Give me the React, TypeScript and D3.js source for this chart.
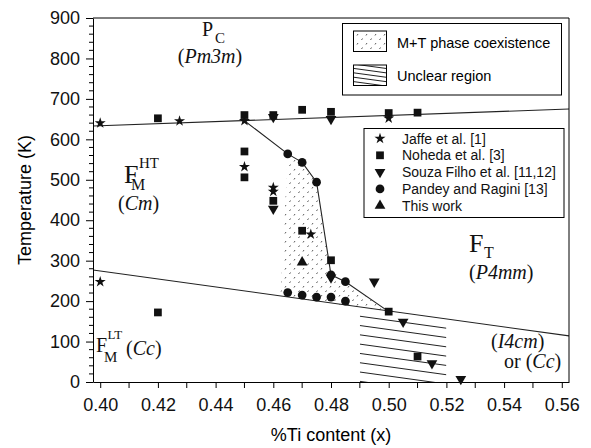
import React, { useEffect, useRef } from "react";
import * as d3 from "d3";

// x = %Ti content, T = temperature (K)
const jaffeX = [0.40, 0.40, 0.4275, 0.45, 0.45, 0.46, 0.46, 0.473, 0.50];
const jaffeT = [640, 248, 645, 646, 532, 481, 471, 365, 652];

const nohedaX = [0.42, 0.42, 0.45, 0.45, 0.45, 0.46, 0.46, 0.47, 0.47, 0.48, 0.48, 0.50, 0.50, 0.51, 0.51];
const nohedaT = [652, 172, 660, 570, 506, 660, 448, 673, 374, 668, 301, 174, 665, 666, 63];

const souzaX = [0.46, 0.46, 0.48, 0.48, 0.495, 0.505, 0.515, 0.525];
const souzaT = [655, 428, 650, 258, 248, 149, 46, 7];

const pandeyX = [0.465, 0.47, 0.475, 0.48, 0.485, 0.465, 0.47, 0.475, 0.48, 0.485];
const pandeyT = [564, 543, 494, 265, 248, 221, 215, 210, 210, 200];

const thisWorkX = [0.47];
const thisWorkT = [296];

// phase boundaries
const upperLineX = [0.3975, 0.5625];
const upperLineT = [633, 675];
const lowerLineX = [0.3975, 0.5625];
const lowerLineT = [277, 114];
const mtLineX = [0.45, 0.465, 0.47, 0.475, 0.48, 0.485, 0.50];
const mtLineT = [646, 564, 543, 494, 265, 248, 174];

// M+T coexistence area and unclear region
const coexX = [0.465, 0.47, 0.475, 0.48, 0.485, 0.50, 0.4625];
const coexT = [564, 543, 494, 265, 248, 174, 213];
const unclearX = [0.49, 0.52];

const xTicks = [0.40, 0.42, 0.44, 0.46, 0.48, 0.50, 0.52, 0.54, 0.56];
const yTicks = [0, 100, 200, 300, 400, 500, 600, 700, 800, 900];

const legendNames = ["Jaffe et al. [1]", "Noheda et al. [3]", "Souza Filho et al. [11,12]", "Pandey and Ragini [13]", "This work"];

const sans = "'Liberation Sans', Arial, Helvetica, sans-serif";
const serif = "'Liberation Serif', 'Times New Roman', serif";

type Part = { t: string; it?: boolean };

const App: React.FC = () => {
  const svgRef = useRef<SVGSVGElement>(null);

  useEffect(() => {
    const svg = d3.select(svgRef.current);
    svg.selectAll("*").remove();

    const x = d3.scaleLinear().domain([0.3975, 0.5625]).range([93, 569]);
    const y = d3.scaleLinear().domain([0, 900]).range([382, 18]);

    const defs = svg.append("defs");
    const pat = defs.append("pattern").attr("id", "dots").attr("patternUnits", "userSpaceOnUse")
      .attr("width", 9).attr("height", 9);
    pat.append("line").attr("x1", 1.5).attr("y1", 4).attr("x2", 2.5).attr("y2", 2.5).attr("stroke", "#444").attr("stroke-width", 0.9);
    pat.append("line").attr("x1", 6).attr("y1", 8.5).attr("x2", 7).attr("y2", 7).attr("stroke", "#444").attr("stroke-width", 0.9);

    // coexistence area
    const coexPts = coexX.map((d, i) => [x(d), y(coexT[i])] as [number, number]);
    svg.append("path").attr("d", d3.line()(coexPts) + "Z").attr("fill", "url(#dots)");

    // unclear region hatching
    const lowAt = (v: number) => lowerLineT[0] + (lowerLineT[1] - lowerLineT[0]) * (v - lowerLineX[0]) / (lowerLineX[1] - lowerLineX[0]);
    defs.append("clipPath").attr("id", "unclear").append("rect")
      .attr("x", x(unclearX[0])).attr("y", y(lowAt(unclearX[0])))
      .attr("width", x(unclearX[1]) - x(unclearX[0])).attr("height", y(0) - y(lowAt(unclearX[0])));
    const hatch = svg.append("g").attr("clip-path", "url(#unclear)");
    d3.range(1, 10).forEach(k => {
      hatch.append("line")
        .attr("x1", x(unclearX[0])).attr("y1", y(lowAt(unclearX[0]) - k * 23))
        .attr("x2", x(unclearX[1])).attr("y2", y(lowAt(unclearX[1]) - k * 23))
        .attr("stroke", "#222").attr("stroke-width", 1);
    });

    // boundary lines
    const drawLine = (xs: number[], ts: number[]) => {
      svg.append("path")
        .attr("d", d3.line<number>().x(d => x(d)).y((_, i) => y(ts[i]))(xs))
        .attr("fill", "none").attr("stroke", "#222").attr("stroke-width", 1.1);
    };
    drawLine(upperLineX, upperLineT);
    drawLine(lowerLineX, lowerLineT);
    drawLine(mtLineX, mtLineT);

    // axes
    const xAxis = svg.append("g").attr("transform", `translate(0,${y(0)})`)
      .call(d3.axisBottom(x).tickValues(xTicks).tickFormat(d3.format(".2f")).tickSize(6).tickSizeOuter(0).tickPadding(10));
    xAxis.selectAll("text").attr("font-size", 18).attr("font-family", sans).attr("fill", "#111");
    xAxis.append("g").selectAll("line").data(d3.range(0.41, 0.56, 0.02)).join("line")
      .attr("x1", d => x(d)).attr("x2", d => x(d)).attr("y1", 0).attr("y2", 6).attr("stroke", "#000");

    const yAxis = svg.append("g").attr("transform", `translate(${x.range()[0]},0)`)
      .call(d3.axisLeft(y).tickValues(yTicks).tickSize(7).tickSizeOuter(0).tickPadding(6));
    yAxis.selectAll("text").attr("font-size", 18).attr("font-family", sans).attr("fill", "#111");
    yAxis.append("g").selectAll("line").data(d3.range(0, 901, 20).filter(d => d % 100 !== 0)).join("line")
      .attr("x1", -4).attr("x2", 0).attr("y1", d => y(d)).attr("y2", d => y(d)).attr("stroke", "#000");

    svg.selectAll(".domain").attr("stroke", "#000");
    svg.append("path")
      .attr("d", `M${x.range()[0]},${y(900)}H${x.range()[1]}V${y(0)}`)
      .attr("fill", "none").attr("stroke", "#000");

    svg.append("text").attr("x", (x.range()[0] + x.range()[1]) / 2).attr("y", 441)
      .attr("text-anchor", "middle").attr("font-size", 18).attr("font-family", sans).text("%Ti content (x)");
    svg.append("text").attr("transform", `translate(31,${(y(0) + y(900)) / 2}) rotate(-90)`)
      .attr("text-anchor", "middle").attr("font-size", 18).attr("font-family", sans).text("Temperature (K)");

    // markers
    const star = d3.symbol().type(d3.symbolStar).size(38)()!;
    const square = d3.symbol().type(d3.symbolSquare).size(60)()!;
    const tri = d3.symbol().type(d3.symbolTriangle).size(50)()!;
    const circ = d3.symbol().type(d3.symbolCircle).size(60)()!;
    const series = [
      { xs: jaffeX, ts: jaffeT, p: star, rot: 0 },
      { xs: nohedaX, ts: nohedaT, p: square, rot: 0 },
      { xs: souzaX, ts: souzaT, p: tri, rot: 180 },
      { xs: pandeyX, ts: pandeyT, p: circ, rot: 0 },
      { xs: thisWorkX, ts: thisWorkT, p: tri, rot: 0 },
    ];
    series.forEach(s => {
      svg.append("g").selectAll("path").data(s.xs).join("path")
        .attr("d", s.p)
        .attr("transform", (d, i) => `translate(${x(d)},${y(s.ts[i])}) rotate(${s.rot})`)
        .attr("fill", "#111");
    });

    // text helper
    const label = (px: number, py: number, parts: Part[], size: number, anchor = "start") => {
      const t = svg.append("text").attr("x", px).attr("y", py).attr("font-size", size)
        .attr("font-family", serif).attr("text-anchor", anchor).attr("fill", "#111");
      parts.forEach(p => t.append("tspan").attr("font-style", p.it ? "italic" : "normal").text(p.t));
    };
    const plain = (px: number, py: number, s: string, size: number) => {
      svg.append("text").attr("x", px).attr("y", py).attr("font-size", size)
        .attr("font-family", serif).attr("fill", "#111").text(s);
    };

    plain(202, 36, "P", 20);
    plain(215, 43, "C", 15);
    label(210, 63, [{ t: "(" }, { t: "Pm3m", it: true }, { t: ")" }], 20, "middle");

    plain(124, 183, "F", 26);
    plain(131, 190, "M", 16);
    plain(139, 168, "HT", 15);
    label(118, 210, [{ t: "(" }, { t: "Cm", it: true }, { t: ")" }], 20);

    plain(469, 252, "F", 26);
    plain(484, 258, "T", 16);
    label(469, 279, [{ t: "(" }, { t: "P4mm", it: true }, { t: ")" }], 20);

    plain(96, 352, "F", 20);
    plain(104, 362, "M", 15);
    plain(107.5, 339, "LT", 13);
    label(126, 355, [{ t: "(" }, { t: "Cc", it: true }, { t: ")" }], 20);

    label(491, 348, [{ t: "(" }, { t: "I4cm", it: true }, { t: ")" }], 20);
    label(504, 368, [{ t: "or (" }, { t: "Cc", it: true }, { t: ")" }], 20);

    // region legend
    svg.append("rect").attr("x", 342.5).attr("y", 23.5).attr("width", 219).attr("height", 71.5)
      .attr("fill", "#fff").attr("stroke", "#000");
    svg.append("rect").attr("x", 353.5).attr("y", 31).attr("width", 33).attr("height", 20.5)
      .attr("fill", "url(#dots)").attr("stroke", "#000");
    defs.append("clipPath").attr("id", "swatch").append("rect")
      .attr("x", 353.5).attr("y", 65).attr("width", 33).attr("height", 20.5);
    const sw = svg.append("g").attr("clip-path", "url(#swatch)");
    d3.range(0, 6).forEach(k => {
      sw.append("line").attr("x1", 353.5).attr("x2", 386.5)
        .attr("y1", 64 + k * 4.4).attr("y2", 68.5 + k * 4.4).attr("stroke", "#222");
    });
    svg.append("rect").attr("x", 353.5).attr("y", 65).attr("width", 33).attr("height", 20.5)
      .attr("fill", "none").attr("stroke", "#000");
    svg.append("text").attr("x", 397).attr("y", 47.5).attr("font-size", 14.5).attr("font-family", sans).text("M+T phase coexistence");
    svg.append("text").attr("x", 397).attr("y", 80.5).attr("font-size", 14.5).attr("font-family", sans).text("Unclear region");

    // data legend
    svg.append("rect").attr("x", 364).attr("y", 128.5).attr("width", 200).attr("height", 89)
      .attr("fill", "#fff").attr("stroke", "#000");
    series.forEach((s, i) => {
      const ly = 138.5 + i * 16.8;
      svg.append("path").attr("d", s.p).attr("transform", `translate(380,${ly}) rotate(${s.rot})`).attr("fill", "#111");
      svg.append("text").attr("x", 402).attr("y", ly + 5).attr("font-size", 14).attr("font-family", sans)
        .attr("fill", "#111").text(legendNames[i]);
    });
  }, []);

  return (
    <svg ref={svgRef} width={591} height={448}
      style={{ position: "absolute", left: 0, top: 0, background: "#fff" }} />
  );
};

export default App;
